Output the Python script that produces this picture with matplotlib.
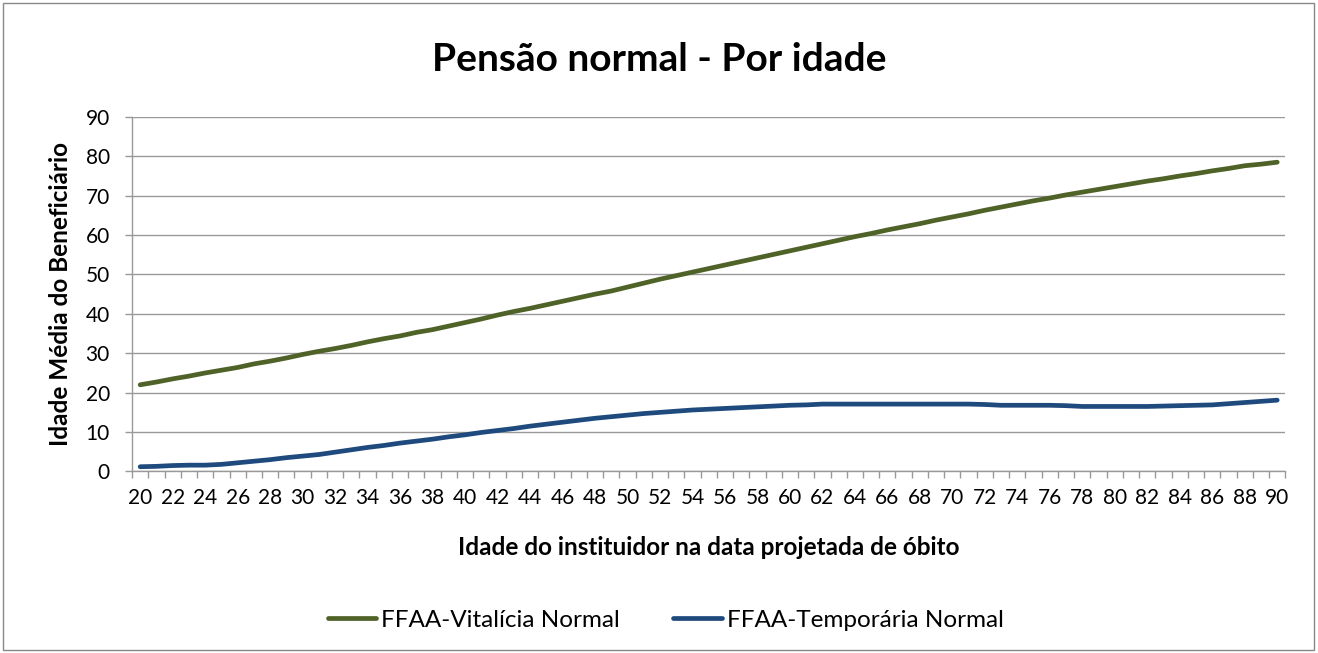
import numpy as np
import matplotlib.pyplot as plt
from matplotlib.patches import Rectangle
from matplotlib.ticker import FixedLocator

plt.rcParams['font.family'] = ['Lato', 'DejaVu Sans']

# dados
idades = list(range(20, 91))
vitalicia = [22.0, 22.7, 23.5, 24.2, 25.0, 25.7, 26.4, 27.3, 28.0, 28.8,
             29.7, 30.5, 31.2, 32.0, 32.9, 33.7, 34.4, 35.3, 36.0, 36.9,
             37.8, 38.7, 39.7, 40.6, 41.4, 42.3, 43.2, 44.1, 45.0, 45.8,
             46.8, 47.8, 48.8, 49.7, 50.6, 51.5, 52.4, 53.3, 54.2, 55.1,
             56.0, 56.9, 57.8, 58.7, 59.6, 60.4, 61.3, 62.1, 62.9, 63.8,
             64.6, 65.4, 66.3, 67.1, 67.9, 68.7, 69.4, 70.2, 70.9, 71.6,
             72.3, 73.0, 73.7, 74.3, 75.0, 75.6, 76.3, 76.9, 77.6, 78.0,
             78.5]
temporaria = [1.2, 1.3, 1.5, 1.6, 1.6, 1.8, 2.2, 2.6, 3.0, 3.5,
              3.9, 4.3, 4.9, 5.5, 6.1, 6.6, 7.2, 7.7, 8.2, 8.8,
              9.3, 9.9, 10.4, 10.9, 11.5, 12.0, 12.5, 13.0, 13.5, 13.9,
              14.3, 14.7, 15.0, 15.3, 15.6, 15.8, 16.0, 16.2, 16.4, 16.6,
              16.8, 16.9, 17.1, 17.1, 17.1, 17.1, 17.1, 17.1, 17.1, 17.1,
              17.1, 17.1, 17.0, 16.8, 16.8, 16.8, 16.8, 16.7, 16.5, 16.5,
              16.5, 16.5, 16.5, 16.6, 16.7, 16.8, 16.9, 17.2, 17.5, 17.8,
              18.1]
rotulos_x = list(range(20, 91, 2))
rotulos_y = list(range(0, 91, 10))

fig = plt.figure(figsize=(13.18, 6.53), dpi=100)
ax = fig.add_axes([0.1002, 0.278, 0.875, 0.543])

ax.plot(idades, vitalicia, c='#4F6228', lw=3.4, solid_capstyle='round',
        label='FFAA-Vitalícia Normal')
ax.plot(idades, temporaria, c='#1F4A7E', lw=3.4, solid_capstyle='round',
        label='FFAA-Temporária Normal')

# eixos
ax.set_xlim(19.5, 90.5)
ax.set_ylim(0, 90)
ax.set_yticks(rotulos_y)
ax.set_xticks(rotulos_x)
ax.xaxis.set_minor_locator(FixedLocator(np.arange(19.5, 91, 1)))
ax.tick_params(axis='x', which='major', length=0, pad=12, labelsize=15)
ax.tick_params(axis='x', which='minor', length=5, width=1, color='#999999')
ax.tick_params(axis='y', length=5, width=1, color='#999999', pad=11, labelsize=15)
ax.grid(axis='y', color='#999999', lw=1)
ax.set_axisbelow(True)
for s in ['top', 'right']:
    ax.spines[s].set_visible(False)
for s in ['left', 'bottom']:
    ax.spines[s].set_color('#999999')
    ax.spines[s].set_linewidth(1)

# textos
fig.suptitle('Pensão normal - Por idade', fontsize=28, fontweight='bold', x=0.5, y=0.935)
ax.set_xlabel('Idade do instituidor na data projetada de óbito', fontsize=17.5,
              fontweight='bold', labelpad=20)
ax.set_ylabel('Idade Média do Beneficiário', fontsize=17.5, fontweight='bold', labelpad=10)

fig.legend(loc='center', bbox_to_anchor=(0.505, 0.05), ncol=2, frameon=False,
           fontsize=17.5, handlelength=2.0, handletextpad=0.2, columnspacing=2.2)

# moldura do grafico
fig.patches.append(Rectangle((0.002, 0.004), 0.995, 0.992, transform=fig.transFigure,
                             fill=False, ec='#888888', lw=1))

plt.savefig('out.png', dpi=100)
